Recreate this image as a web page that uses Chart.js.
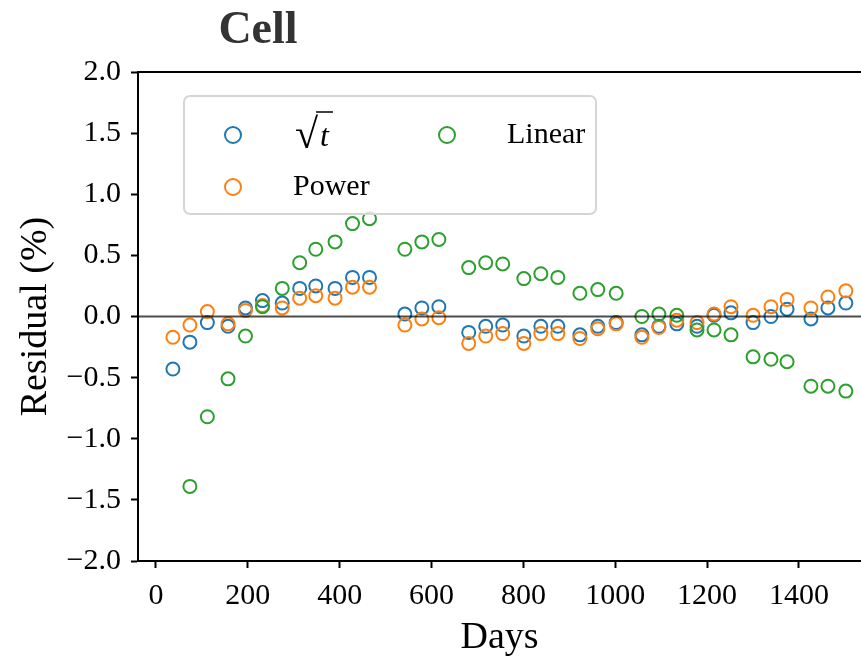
<!DOCTYPE html>
<html>
<head>
<meta charset="utf-8">
<script src="https://cdn.jsdelivr.net/npm/chart.js@4.4.1/dist/chart.umd.min.js"></script>
<style>
  html, body { margin: 0; padding: 0; background: #fff; }
  #wrap { width: 861px; height: 661px; }
</style>
</head>
<body>
<div id="wrap"><canvas id="chart" width="861" height="661"></canvas></div>
<script>
// days of each measurement
const days = [37, 74, 112, 157, 195, 232, 275, 313, 348, 390, 428, 465,
              542, 579, 616, 681, 718, 755, 801, 838, 875, 923, 962, 1002,
              1058, 1095, 1134, 1178, 1215, 1252, 1300, 1339, 1374, 1426, 1463, 1502];

// residuals (%)
const sqrtResidual = [-0.43, -0.21, -0.05, -0.08, 0.07, 0.13, 0.11, 0.23, 0.25, 0.23, 0.32, 0.32,
                      0.02, 0.07, 0.08, -0.13, -0.08, -0.07, -0.16, -0.08, -0.08, -0.15, -0.08, -0.05,
                      -0.15, -0.08, -0.06, -0.08, 0.01, 0.03, -0.05, 0.00, 0.06, -0.02, 0.07, 0.11];
const powerResidual = [-0.17, -0.07, 0.04, -0.06, 0.05, 0.09, 0.07, 0.15, 0.17, 0.15, 0.24, 0.24,
                       -0.07, -0.02, -0.01, -0.22, -0.16, -0.14, -0.22, -0.14, -0.14, -0.18, -0.10, -0.06,
                       -0.17, -0.09, -0.03, -0.05, 0.02, 0.08, 0.01, 0.08, 0.14, 0.07, 0.16, 0.21];
const linearResidual = [null, -1.39, -0.82, -0.51, -0.16, 0.08, 0.23, 0.44, 0.55, 0.61, 0.76, 0.80,
                        0.55, 0.61, 0.63, 0.40, 0.44, 0.43, 0.31, 0.35, 0.32, 0.19, 0.22, 0.19,
                        0.00, 0.02, 0.01, -0.11, -0.11, -0.15, -0.33, -0.35, -0.37, -0.57, -0.57, -0.61];

const seriesNames = ['√t', 'Power', 'Linear'];
const seriesColors = ['#1f77b4', '#ff7f0e', '#2ca02c'];
const xTicks = [0, 200, 400, 600, 800, 1000, 1200, 1400];
const yTicks = [-2, -1.5, -1, -0.5, 0, 0.5, 1, 1.5, 2];
const chartTitle = 'Cell';
const xTitle = 'Days';
const yTitle = 'Residual (%)';

const serif = "'Liberation Serif', 'Times New Roman', serif";

function toPoints(values) {
    return days.map((d, i) => ({ x: d, y: values[i] }));
}

// zero line, top spine, title and a two-column legend box
const extras = {
    id: 'extras',
    afterDatasetsDraw(chart) {
        const { ctx, chartArea: a, scales } = chart;
        ctx.save();

        const y0 = scales.y.getPixelForValue(0);
        ctx.strokeStyle = 'rgba(0,0,0,0.7)';
        ctx.lineWidth = 2;
        ctx.beginPath();
        ctx.moveTo(a.left, y0);
        ctx.lineTo(a.right, y0);
        ctx.stroke();

        ctx.strokeStyle = '#000';
        ctx.beginPath();
        ctx.moveTo(a.left, a.top);
        ctx.lineTo(a.right, a.top);
        ctx.stroke();

        ctx.fillStyle = '#333';
        ctx.font = 'bold 46px ' + serif;
        ctx.textAlign = 'center';
        ctx.textBaseline = 'alphabetic';
        ctx.fillText(chartTitle, a.left + 120, 43);

        // legend
        const bx = a.left + 46, by = a.top + 24, bw = 412, bh = 118;
        ctx.fillStyle = 'rgba(255,255,255,0.8)';
        ctx.strokeStyle = '#d5d5d5';
        ctx.lineWidth = 2;
        ctx.beginPath();
        ctx.roundRect(bx, by, bw, bh, 6);
        ctx.fill();
        ctx.stroke();

        const slots = [[0, 0], [0, 1], [1, 0]];
        chart.data.datasets.forEach((ds, i) => {
            const [col, row] = slots[i];
            const mx = bx + 49 + col * 214;
            const my = by + 39 + row * 52;
            ctx.strokeStyle = seriesColors[i];
            ctx.lineWidth = 2;
            ctx.beginPath();
            ctx.arc(mx, my, 8, 0, Math.PI * 2);
            ctx.stroke();

            ctx.fillStyle = '#000';
            ctx.textAlign = 'left';
            ctx.textBaseline = 'middle';
            if (ds.label === '√t') {
                const tx = mx + 62;
                ctx.font = '42px ' + serif;
                ctx.fillText('√', tx, my + 2);
                const rw = ctx.measureText('√').width;
                ctx.font = 'italic 32px ' + serif;
                ctx.fillText('t', tx + rw + 2, my + 3);
                const tw = ctx.measureText('t').width;
                ctx.strokeStyle = '#000';
                ctx.lineWidth = 1.5;
                ctx.beginPath();
                ctx.moveTo(tx + rw - 2, my - 23);
                ctx.lineTo(tx + rw + tw + 6, my - 23);
                ctx.stroke();
            } else {
                ctx.font = '30px ' + serif;
                ctx.fillText(ds.label, mx + 60, my);
            }
        });
        ctx.restore();
    }
};

const datasets = [sqrtResidual, powerResidual, linearResidual].map((vals, i) => ({
    label: seriesNames[i],
    data: toPoints(vals),
    borderColor: seriesColors[i],
    backgroundColor: 'rgba(0,0,0,0)',
    pointRadius: 6.5,
    pointHoverRadius: 6.5,
    borderWidth: 2,
    order: 2 - i
}));

new Chart(document.getElementById('chart'), {
    type: 'scatter',
    data: { datasets },
    options: {
        responsive: false,
        animation: false,
        devicePixelRatio: 1,
        layout: { autoPadding: false, padding: { top: 72, left: 0, right: 0, bottom: 0 } },
        plugins: {
            legend: { display: false },
            title: { display: false },
            tooltip: { enabled: false }
        },
        scales: {
            x: {
                type: 'linear',
                min: -39,
                max: 1535,
                afterFit(scale) {
                    scale.height = 100;
                },
                afterBuildTicks(scale) { scale.ticks = xTicks.map(v => ({ value: v })); },
                ticks: {
                    autoSkip: false,
                    maxRotation: 0,
                    minRotation: 0,
                    padding: 10,
                    color: '#000',
                    font: { family: serif, size: 30 },
                    callback: v => String(v)
                },
                grid: { display: true, drawOnChartArea: false, drawTicks: true, tickLength: 7, tickWidth: 2, tickColor: '#000' },
                border: { display: true, color: '#000', width: 2 },
                title: { display: true, text: xTitle, color: '#000', font: { family: serif, size: 38 }, padding: { top: 0, bottom: 0 } }
            },
            y: {
                type: 'linear',
                min: -2,
                max: 2,
                afterFit(scale) { scale.width = 138; },
                afterBuildTicks(scale) { scale.ticks = yTicks.map(v => ({ value: v })); },
                ticks: {
                    autoSkip: false,
                    padding: 10,
                    color: '#000',
                    font: { family: serif, size: 30 },
                    callback: v => v.toFixed(1).replace('-', '\u2212')
                },
                grid: { display: true, drawOnChartArea: false, drawTicks: true, tickLength: 7, tickWidth: 2, tickColor: '#000' },
                border: { display: true, color: '#000', width: 2 },
                title: { display: true, text: yTitle, color: '#000', font: { family: serif, size: 38 }, padding: { top: 13, bottom: 0 } }
            }
        }
    },
    plugins: [extras]
});
</script>
</body>
</html>
